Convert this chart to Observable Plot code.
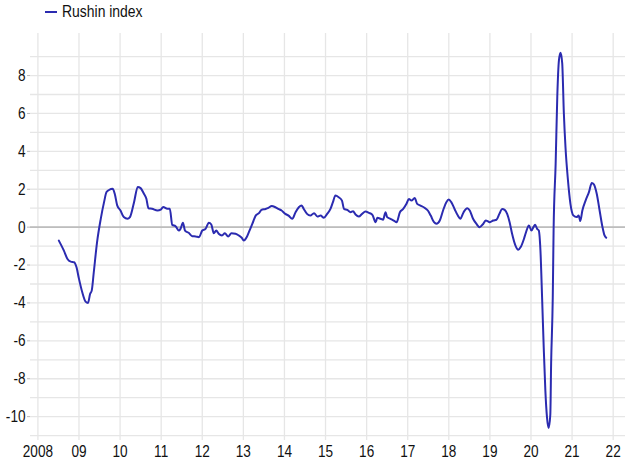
<!DOCTYPE html>
<html>
<head>
<meta charset="utf-8">
<script src="https://cdn.jsdelivr.net/npm/d3@7"></script>
<script src="https://cdn.jsdelivr.net/npm/@observablehq/plot@0.6"></script>
<style>
  html, body { margin: 0; padding: 0; background: #fff; }
  body { width: 628px; height: 464px; overflow: hidden; font-family: "Liberation Sans", Arial, sans-serif; }
  #legend { position: relative; height: 26px; }
  #legend .sw { position: absolute; left: 45px; top: 11px; width: 12px; height: 2px; background: #2b2bb0; }
  #legend .lb { position: absolute; left: 62px; top: 2px; font-size: 17px; color: #111; line-height: 20px; transform: scaleX(0.82); transform-origin: left center; white-space: nowrap; }
  svg { display: block; }
</style>
</head>
<body>
<div id="legend"><div class="sw"></div><div class="lb">Rushin index</div></div>
<div id="chart"></div>
<script>
// decimal-year time stamps and Rushin index values
const t = [
  2008.51,2008.63,2008.72,2008.80,2008.88,2008.94,2009.00,2009.08,2009.16,2009.22,
  2009.27,2009.31,2009.36,2009.44,2009.53,2009.61,2009.67,2009.73,2009.82,2009.87,
  2009.93,2010.01,2010.09,2010.18,2010.24,2010.34,2010.43,2010.50,2010.58,2010.64,
  2010.69,2010.78,2010.91,2010.99,2011.05,2011.15,2011.21,2011.27,2011.35,2011.43,
  2011.47,2011.53,2011.58,2011.67,2011.76,2011.84,2011.92,2012.00,2012.08,2012.16,
  2012.22,2012.28,2012.34,2012.40,2012.48,2012.55,2012.63,2012.71,2012.81,2012.89,
  2012.96,2013.01,2013.09,2013.15,2013.22,2013.30,2013.38,2013.44,2013.54,2013.61,
  2013.69,2013.78,2013.85,2013.93,2014.02,2014.10,2014.19,2014.27,2014.35,2014.42,
  2014.47,2014.55,2014.63,2014.72,2014.80,2014.88,2014.96,2015.04,2015.12,2015.18,
  2015.24,2015.32,2015.40,2015.45,2015.53,2015.61,2015.67,2015.73,2015.81,2015.89,
  2015.97,2016.06,2016.14,2016.22,2016.26,2016.34,2016.40,2016.46,2016.50,2016.58,
  2016.66,2016.73,2016.81,2016.89,2016.97,2017.03,2017.09,2017.17,2017.23,2017.31,
  2017.39,2017.49,2017.56,2017.64,2017.70,2017.78,2017.86,2017.94,2018.00,2018.06,
  2018.14,2018.22,2018.28,2018.36,2018.45,2018.51,2018.59,2018.67,2018.75,2018.84,
  2018.90,2018.96,2019.00,2019.08,2019.16,2019.23,2019.30,2019.36,2019.42,2019.48,
  2019.54,2019.62,2019.69,2019.75,2019.83,2019.88,2019.95,2020.01,2020.06,2020.10,
  2020.15,2020.19,2020.23,2020.27,2020.31,2020.35,2020.39,2020.43,2020.47,2020.49,
  2020.53,2020.55,2020.60,2020.64,2020.68,2020.72,2020.76,2020.80,2020.84,2020.90,
  2020.96,2021.03,2021.11,2021.16,2021.20,2021.25,2021.33,2021.41,2021.48,2021.53,
  2021.60,2021.67,2021.74,2021.79,2021.83
];
const rushin = [
  -0.71,-1.23,-1.68,-1.82,-1.85,-2.12,-2.73,-3.44,-3.93,-4.00,
  -3.53,-3.35,-2.38,-0.79,0.44,1.32,1.85,1.96,2.03,1.76,
  1.15,0.88,0.53,0.44,0.53,1.32,2.12,2.06,1.76,1.50,
  1.00,0.97,0.88,0.93,1.06,0.97,0.97,0.12,0.05,-0.18,
  -0.09,0.23,-0.18,-0.30,-0.48,-0.49,-0.53,-0.18,-0.09,0.23,
  0.14,-0.32,-0.18,-0.35,-0.44,-0.32,-0.49,-0.32,-0.35,-0.44,
  -0.56,-0.70,-0.49,-0.18,0.18,0.61,0.74,0.91,0.96,1.02,
  1.12,1.05,0.96,0.88,0.70,0.61,0.44,0.79,1.05,1.14,
  0.96,0.70,0.61,0.74,0.56,0.61,0.49,0.70,0.96,1.32,
  1.67,1.58,1.40,0.96,0.91,0.79,0.84,0.67,0.56,0.70,
  0.82,0.75,0.65,0.26,0.49,0.44,0.39,0.79,0.53,0.44,
  0.35,0.26,0.79,0.96,1.23,1.49,1.40,1.54,1.23,1.14,
  1.05,0.88,0.61,0.26,0.18,0.35,0.88,1.32,1.46,1.32,
  0.96,0.61,0.44,0.79,1.00,0.88,0.44,0.18,0.00,0.18,
  0.35,0.30,0.26,0.35,0.39,0.70,0.96,0.91,0.70,0.26,
  -0.35,-0.96,-1.19,-1.05,-0.61,-0.26,0.09,-0.18,0.00,0.12,
  -0.09,-0.18,-1.23,-3.70,-6.35,-8.64,-10.05,-10.60,-9.90,-7.20,
  -3.70,-0.18,3.35,6.90,8.80,9.20,8.64,6.00,4.20,2.47,
  1.23,0.62,0.53,0.62,0.32,0.88,1.41,1.85,2.33,2.26,
  1.76,0.88,0.00,-0.44,-0.56
];
const yearTicks = d3.range(2008, 2023);
const yearLabels = yearTicks.map(y => y === 2008 ? "2008" : String(y % 100).padStart(2, "0"));
const yTicks = [-10, -8, -6, -4, -2, 0, 2, 4, 6, 8];
const yGrid = d3.range(-11, 10);

const data = t.map((x, i) => ({x, v: rushin[i]}));

const chart = Plot.plot({
  width: 628,
  height: 438,
  marginTop: 7,
  marginBottom: 24,
  marginLeft: 30,
  marginRight: 3,
  style: {fontFamily: '"Liberation Sans", Arial, sans-serif', fontSize: "17px", color: "#111", background: "#fff"},
  x: {domain: [2007.82, 2022.3], label: null},
  y: {domain: [-11.26, 10.22], label: null},
  marks: [
    Plot.ruleY(yGrid, {stroke: "#e6e6e6", strokeWidth: 1.3}),
    Plot.ruleX(yearTicks, {stroke: "#e6e6e6", strokeWidth: 1.3}),
    Plot.ruleY([0], {stroke: "#bdbdbd", strokeWidth: 1.6}),
    Plot.line(data, {x: "x", y: "v", stroke: "#2b2bb0", strokeWidth: 2, curve: "monotone-x"}),
    Plot.axisY({ticks: yTicks, tickSize: 3, tickPadding: 2, stroke: "#bbb", tickFormat: d => String(d)}),
    Plot.axisX({ticks: yearTicks, tickSize: 0, tickPadding: 4, tickFormat: d => yearLabels[yearTicks.indexOf(d)]})
  ]
});
// condense the tick labels horizontally, like the narrow face of the reference
chart.querySelectorAll('g[aria-label="y-axis tick label"] text, g[aria-label="x-axis tick label"] text').forEach(el => {
  const x = +(el.getAttribute("x") || 0);
  const t0 = el.getAttribute("transform") || "";
  el.setAttribute("transform", `${t0} translate(${x},0) scale(0.8,1) translate(${-x},0)`);
});
document.getElementById("chart").appendChild(chart);
</script>
</body>
</html>
